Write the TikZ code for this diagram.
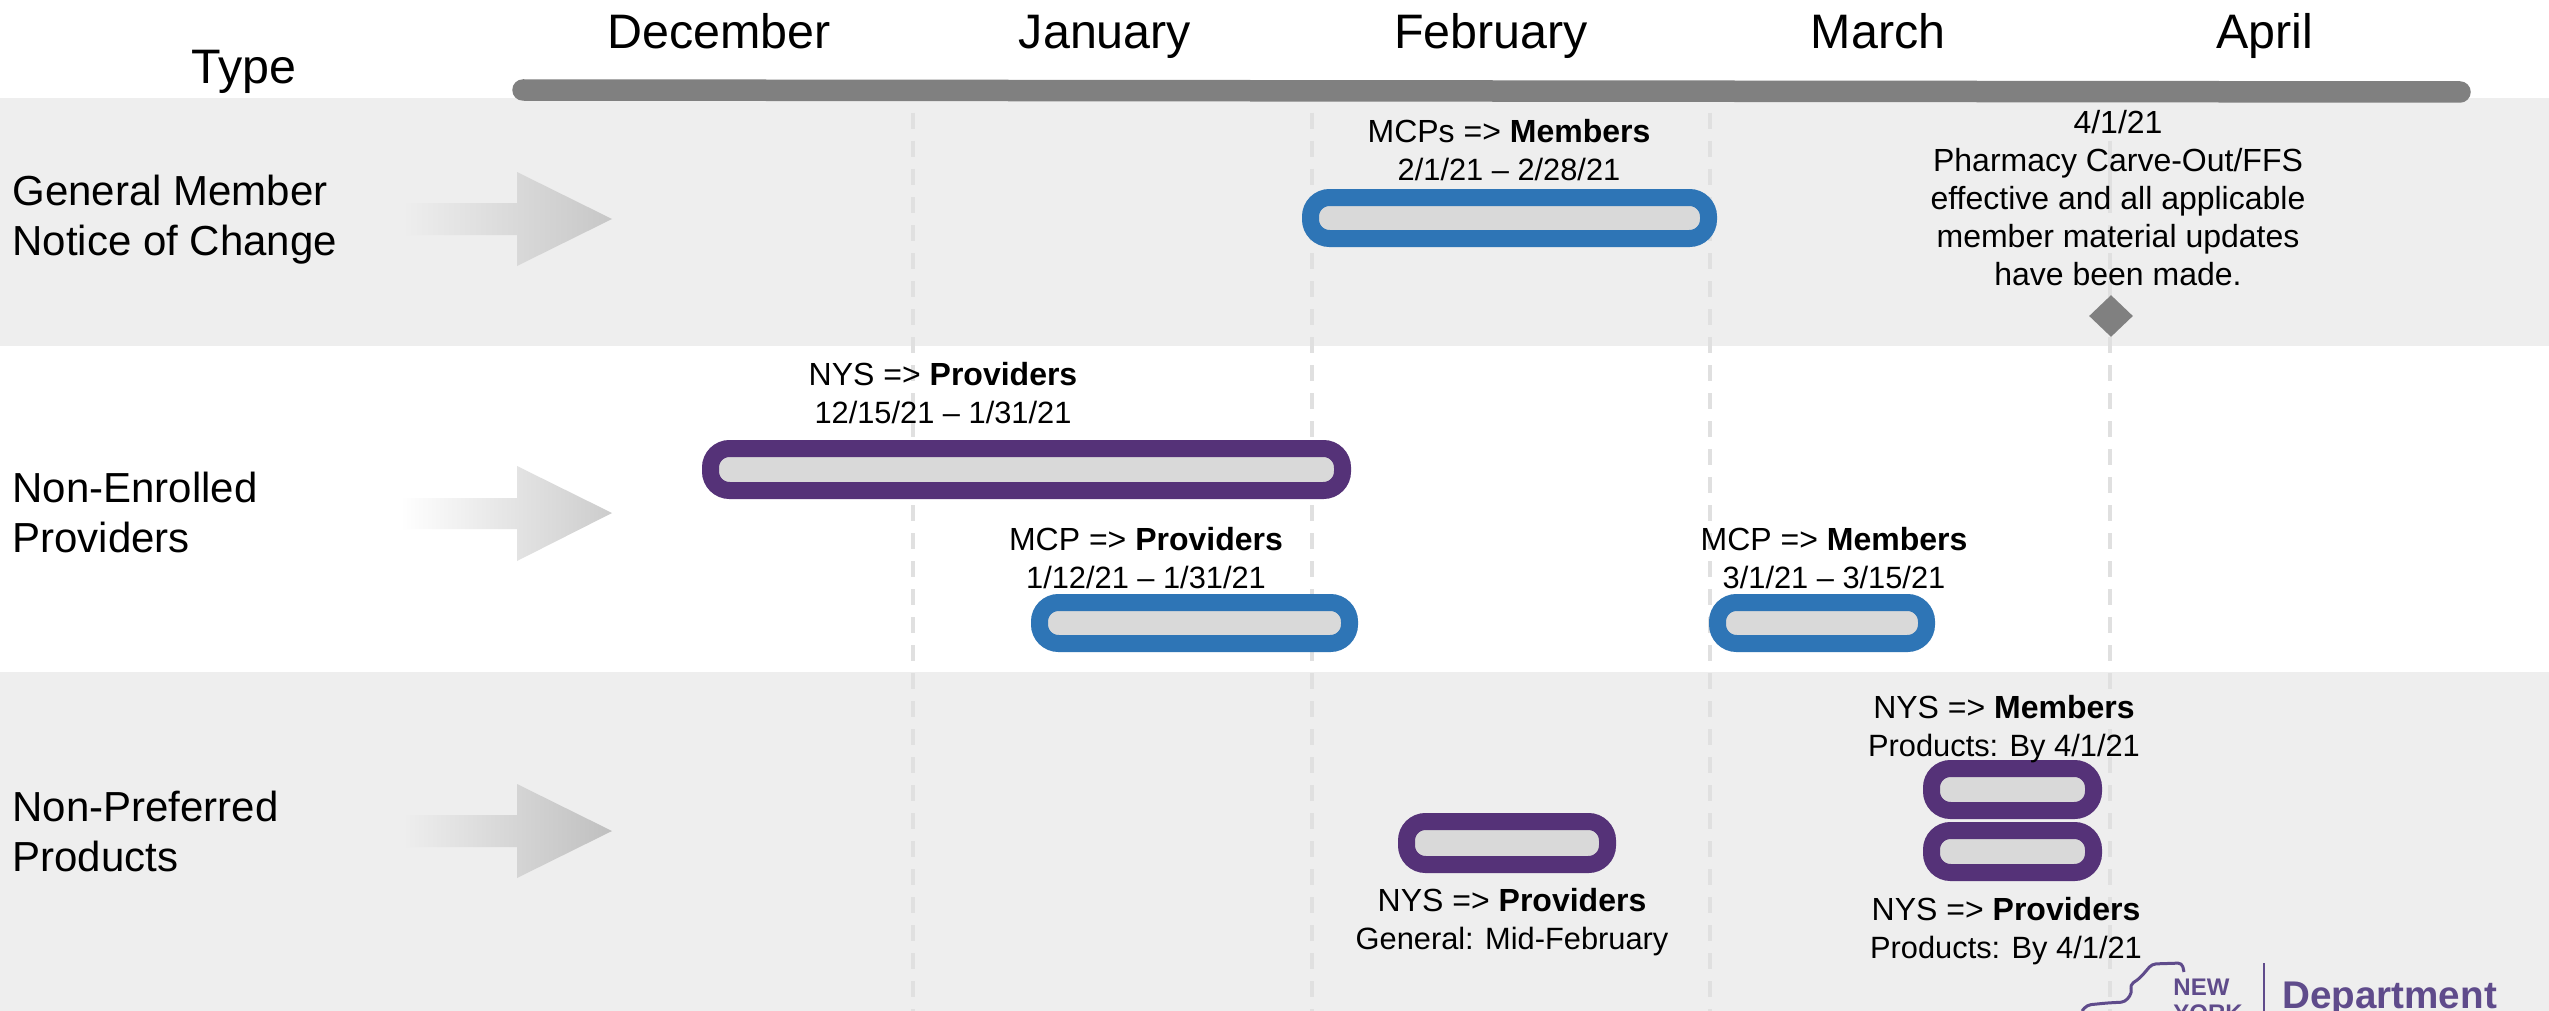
\documentclass[tikz,border=0pt]{standalone}
\usepackage{fontspec}
\setmainfont{Liberation Sans}
\usepackage{tikz}
\usetikzlibrary{positioning, shapes.geometric}
\definecolor{bandgray}{HTML}{EEEEEE}
\definecolor{barpurple}{HTML}{553278}
\definecolor{barblue}{HTML}{2E75B6}
\definecolor{barfill}{HTML}{D9D9D9}
\definecolor{tickgray}{HTML}{E0E0E0}
\definecolor{logopurple}{HTML}{5F4B8B}
\newcommand{\datesize}{\fontsize{15.4}{18.9}\selectfont}
\tikzset{
  monthlabel/.style={inner sep=0pt, anchor=base, font=\fontsize{24.2}{28}\selectfont},
  typelabel/.style={inner sep=0pt, anchor=west, align=left, font=\fontsize{21}{25}\selectfont},
  notelabel/.style={inner sep=0pt, align=center, font=\fontsize{16}{18.9}\selectfont},
  monthtick/.style={draw=tickgray, line width=2pt, dash pattern=on 8pt off 6pt},
  pillpurple/.style={draw=barpurple, fill=barfill, line width=8.5pt, rounded corners=9.5pt},
  pillblue/.style={draw=barblue, fill=barfill, line width=8.5pt, rounded corners=9.5pt},
  logotext/.style={inner sep=0pt, anchor=base west, text=logopurple, font=\bfseries\fontsize{12}{12}\selectfont}
}
\begin{document}
\begin{tikzpicture}[x=0.5pt, y=-0.5pt]
\clip (0,0) rectangle (2549,1011);
\fill [white] (0,0) rectangle (2549,1011);
\fill [bandgray] (0,98) rectangle (2549,346);
\fill [bandgray] (0,672) rectangle (2549,1011);
% month ticks
\draw [monthtick] (912.5,113) -- (912.5,1011);
\draw [monthtick] (1312,113) -- (1312,1011);
\draw [monthtick] (1710,113) -- (1710,1011);
\draw [tickgray, line width=2pt] (2110,141) -- (2110,213);
\draw [monthtick] (2110,225) -- (2110,1011);
% timeline
\draw [draw=black!50, line width=10.75pt, line cap=round] (523,90) -- (2460,92);
\node [monthlabel] (dec) at (719,49) {December};
\node [monthlabel] (jan) at (1105,49) {January};
\node [monthlabel] (feb) at (1491,49) {February};
\node [monthlabel] (mar) at (1878,49) {March};
\node [monthlabel] (apr) at (2265,49) {April};
\node [monthlabel] (type) at (244,84) {Type};
% rows
\node [typelabel] (general) at (12,219.5) {General Member\\Notice of Change};
\node [typelabel] (enrolled) at (12,512) {Non-Enrolled\\Providers};
\node [typelabel] (preferred) at (12,831) {Non-Preferred\\Products};
\shade [left color=bandgray, right color=black!22] (403,203) -- (517,203) -- (517,172) -- (612,219) -- (517,266) -- (517,235) -- (403,235) -- cycle;
\shade [left color=white, right color=black!20] (400,498) -- (517,498) -- (517,466) -- (612,513) -- (517,561) -- (517,529) -- (400,529) -- cycle;
\shade [left color=bandgray, right color=black!25] (403,815) -- (517,815) -- (517,784) -- (612,831) -- (517,878) -- (517,847) -- (403,847) -- cycle;
% bars
\filldraw [pillblue] (1310.5,197.5) rectangle (1708.5,238.5);
\filldraw [pillpurple] (710.5,448.5) rectangle (1342.5,490.5);
\filldraw [pillblue] (1039.5,602.5) rectangle (1349.5,643.5);
\filldraw [pillblue] (1717.5,602.5) rectangle (1926.5,643.5);
\filldraw [pillpurple] (1406.5,821.5) rectangle (1607.5,864.5);
\filldraw [pillpurple] (1931.5,768.5) rectangle (2093.5,810.5);
\filldraw [pillpurple] (1931.5,830.5) rectangle (2093.5,872.5);
\node [diamond, fill=black!50, inner sep=0pt, minimum width=22pt, minimum height=21pt] (mile) at (2111,316) {};
% notes
\node [notelabel] (mcpmem) at (1509,150) {MCPs => \textbf{Members}\\{\datesize 2/1/21 – 2/28/21}};
\node [notelabel] (pharm) at (2118,198) {4/1/21\\Pharmacy Carve-Out/FFS\\effective and all applicable\\member material updates\\have been made.};
\node [notelabel] (nysprov) at (943,393) {NYS => \textbf{Providers}\\{\datesize 12/15/21 – 1/31/21}};
\node [notelabel] (mcpprov) at (1146,558) {MCP => \textbf{Providers}\\{\datesize 1/12/21 – 1/31/21}};
\node [notelabel] (mcpmar) at (1834,558) {MCP => \textbf{Members}\\{\datesize 3/1/21 – 3/15/21}};
\node [notelabel] (nysmem) at (2004,729) {NYS => \textbf{Members}\\{\datesize Products: By 4/1/21}};
\node [notelabel] (nysprod) at (2006,931) {NYS => \textbf{Providers}\\{\datesize Products: By 4/1/21}};
\node [notelabel] (nysgen) at (1512,922) {NYS => \textbf{Providers}\\{\datesize General: Mid-February}};
% logo
\draw [logopurple, line width=1.5pt, line join=round, rounded corners=2pt] (2082,1011) -- (2087,1005) -- (2107,1003) -- (2125,1002) -- (2132,993) -- (2130,985) -- (2140,978) -- (2152,964) -- (2182,963) -- (2184,972);
\node [logotext] (new) at (2173,995) {NEW};
\node [logotext] (york) at (2173,1021) {YORK};
\draw [logopurple, line width=1pt] (2264,963) -- (2264,1011);
\node [logotext, font=\bfseries\fontsize{19.3}{19}\selectfont] (dept) at (2282,1008) {Department};
\end{tikzpicture}
\end{document}
